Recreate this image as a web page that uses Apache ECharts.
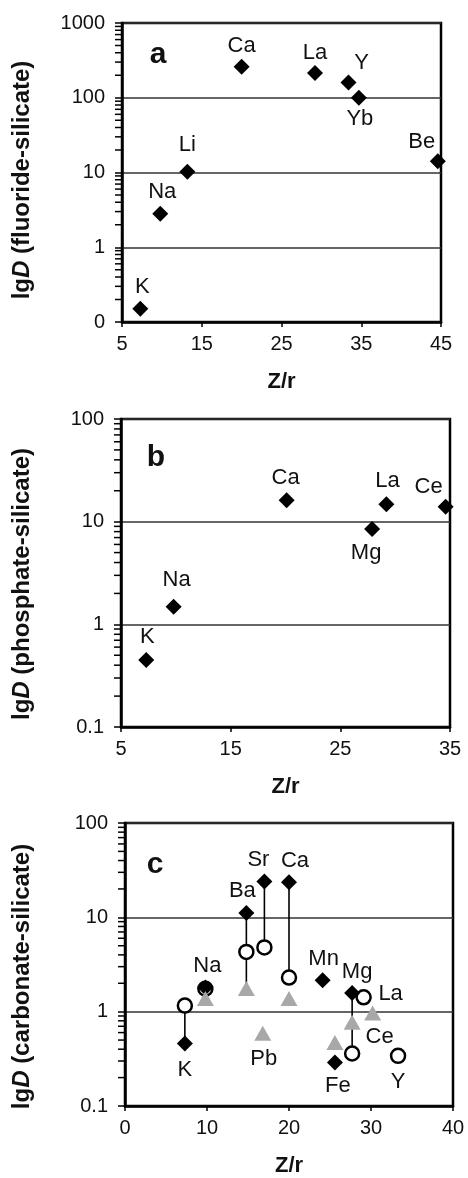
<!DOCTYPE html>
<html>
<head>
<meta charset="utf-8">
<script src="https://cdn.jsdelivr.net/npm/echarts@6/dist/echarts.min.js"></script>
<style>
  html, body { margin: 0; padding: 0; background: #fff; }
  #chart { width: 468px; height: 1178px; }
</style>
</head>
<body>
<div id="chart"></div>
<script>
// ---- Panel a: fluoride melt / silicate melt partition coefficients ----
const fluorideElements = ['K', 'Na', 'Li', 'Ca', 'La', 'Y', 'Yb', 'Be'];
const fluorideZr       = [7.3, 9.8, 13.2, 20.0, 29.2, 33.4, 34.7, 44.6];
const fluorideD        = [0.15, 2.8, 10.2, 260, 215, 160, 100, 14.1];

// ---- Panel b: phosphate melt / silicate melt ----
const phosphateElements = ['K', 'Na', 'Ca', 'Mg', 'La', 'Ce'];
const phosphateZr       = [7.3, 9.8, 20.1, 27.9, 29.2, 34.6];
const phosphateD        = [0.45, 1.48, 16.2, 8.5, 14.8, 14.0];

// ---- Panel c: carbonate melt / silicate melt, three data sets ----
const carbDiamondElements = ['K', 'Na', 'Ba', 'Sr', 'Ca', 'Mn', 'Mg', 'Fe'];
const carbDiamondZr       = [7.3, 9.8, 14.8, 17.0, 20.0, 24.1, 27.7, 25.6];
const carbDiamondD        = [0.46, 1.8, 11.1, 24, 23.5, 2.15, 1.58, 0.29];

const carbCircleElements = ['K', 'Na', 'Ba', 'Sr', 'Ca', 'Mg', 'La', 'Y'];
const carbCircleZr       = [7.3, 9.8, 14.8, 17.0, 20.0, 27.7, 29.1, 33.3];
const carbCircleD        = [1.16, 1.75, 4.3, 4.8, 2.3, 0.36, 1.42, 0.34];

const carbTriangleElements = ['Na', 'Ba', 'Pb', 'Ca', 'Fe', 'Mg', 'Ce'];
const carbTriangleZr       = [9.8, 14.8, 16.8, 20.0, 25.6, 27.7, 30.2];
const carbTriangleD        = [1.38, 1.76, 0.59, 1.38, 0.47, 0.77, 0.97];

// tie lines joining the same element across data sets: [element, from set, to set]
const carbTieLines = [
  ['K',  'circle',  'diamond'],
  ['Ba', 'diamond', 'triangle'],
  ['Sr', 'diamond', 'circle'],
  ['Ca', 'diamond', 'circle'],
  ['Mg', 'diamond', 'circle']
];

// axis ticks
const zrTicksA = { min: 5, max: 45, interval: 10 };
const zrTicksB = { min: 5, max: 35, interval: 10 };
const zrTicksC = { min: 0, max: 40, interval: 10 };
const dRangeA = { min: 0.1, max: 1000 };
const dRangeB = { min: 0.1, max: 100 };
const dRangeC = { min: 0.1, max: 100 };
const minorMultipliers = [2, 3, 4, 5, 6, 7, 8, 9];

// ---- label placement (pixel offsets from the marker centre) ----
const labelOffsetsA = {
  K: [2, -22], Na: [2, -22], Li: [0, -27], Ca: [0, -21],
  La: [0, -20], Y: [13, -20], Yb: [1, 21], Be: [-16, -19]
};
const labelOffsetsB = {
  K: [1, -23], Na: [3, -27], Ca: [-1, -22], Mg: [-6, 24], La: [1, -23], Ce: [-17, -20]
};
const labelOffsetsCDiamond = {
  K: [0, 26], Na: [2, -22], Ba: [-4, -22], Sr: [-6, -22], Ca: [6, -21],
  Mn: [1, -21], Mg: [5, -21], Fe: [3, 24]
};
const labelOffsetsCCircle = { La: [27, -3], Y: [0, 26] };
const labelOffsetsCTriangle = { Pb: [1, 26], Ce: [7, 24] };

const FONT = '"Liberation Sans", Arial, Helvetica, sans-serif';
const INK = '#111';

function points(names, xs, ys, offsets) {
  return names.map((n, i) => {
    const off = offsets[n];
    return {
      name: n,
      value: [xs[i], ys[i]],
      label: off ? { show: true, offset: off } : { show: false }
    };
  });
}

const pointLabel = {
  show: true, position: 'inside', formatter: '{b}',
  fontFamily: FONT, fontSize: 22, color: INK,
  textBorderWidth: 0, textBorderColor: 'transparent'
};

function minorTickValues(xMin, range) {
  const out = [];
  for (let dec = range.min; dec < range.max * 0.999; dec *= 10) {
    minorMultipliers.forEach(m => out.push([xMin, +(dec * m).toPrecision(3)]));
  }
  return out;
}

// log-spaced minor ticks (2..9 in each decade) just outside the y axis line
function minorTickSeries(idx, xMin, range) {
  return {
    type: 'scatter', xAxisIndex: idx, yAxisIndex: idx, silent: true, z: 6, clip: false,
    symbol: 'rect', symbolSize: [6, 1.5], symbolOffset: [-4, 0],
    itemStyle: { color: '#000', opacity: 1 },
    label: { show: false },
    data: minorTickValues(xMin, range)
  };
}

function xAxisFor(idx, t) {
  return {
    type: 'value', gridIndex: idx, min: t.min, max: t.max, interval: t.interval,
    name: 'Z/r', nameLocation: 'middle', nameGap: 49,
    nameTextStyle: { fontFamily: FONT, fontSize: 22, fontWeight: 'bold', color: INK },
    axisLine: { show: true, lineStyle: { color: '#000', width: 2.5 } },
    axisTick: { show: true, inside: false, length: 5, lineStyle: { color: '#000', width: 1.5 } },
    axisLabel: { margin: 12, fontFamily: FONT, fontSize: 20, color: INK },
    splitLine: { show: false }
  };
}

// the empty trailing rich segment nudges the rotated title down the axis
function yAxisFor(idx, r, phase, nameGap, shift, zeroLabel) {
  return {
    type: 'log', logBase: 10, gridIndex: idx, min: r.min, max: r.max,
    name: '{n|lg}{i|D}{n| (' + phase + '-silicate)}{s| }',
    nameLocation: 'middle', nameGap: nameGap, nameRotate: 90,
    nameTextStyle: {
      rich: {
        n: { fontFamily: FONT, fontSize: 24, fontWeight: 'bold', color: INK },
        i: { fontFamily: FONT, fontSize: 24, fontWeight: 'bold', fontStyle: 'italic', color: INK },
        s: { fontSize: 24, width: shift }
      }
    },
    axisLine: { show: true, lineStyle: { color: '#000', width: 2.5 } },
    axisTick: { show: true, inside: false, length: 7, lineStyle: { color: '#000', width: 1.5 } },
    axisLabel: {
      margin: 17, fontFamily: FONT, fontSize: 20, color: INK,
      formatter: function (v) {
        if (Math.abs(v - 0.1) < 1e-9) return zeroLabel ? '0' : '0.1';
        return String(Math.round(v));
      }
    },
    splitLine: { show: true, lineStyle: { color: '#333', width: 1.5 } }
  };
}

function diamondSeries(idx, data) {
  return {
    type: 'scatter', xAxisIndex: idx, yAxisIndex: idx, z: 3,
    symbol: 'diamond', symbolSize: 16,
    itemStyle: { color: '#000', opacity: 1 },
    label: pointLabel, data: data
  };
}

// tie line data built from the panel c arrays
const carbSets = {
  diamond:  { names: carbDiamondElements,  x: carbDiamondZr,  y: carbDiamondD },
  circle:   { names: carbCircleElements,   x: carbCircleZr,   y: carbCircleD },
  triangle: { names: carbTriangleElements, x: carbTriangleZr, y: carbTriangleD }
};
const tieData = carbTieLines.map(([el, a, b]) => {
  const ia = carbSets[a].names.indexOf(el);
  const ib = carbSets[b].names.indexOf(el);
  return [carbSets[a].x[ia], carbSets[a].y[ia], carbSets[b].y[ib]];
});

const grids = [
  { left: 122, top: 23,  width: 319, height: 299 },
  { left: 121, top: 419, width: 329, height: 308 },
  { left: 125, top: 823, width: 328, height: 285 }
].map(g => Object.assign({ show: true, borderColor: '#000', borderWidth: 2.5, backgroundColor: 'transparent' }, g));

const chart = echarts.init(document.getElementById('chart'), null, { renderer: 'canvas' });
chart.setOption({
  animation: false,
  backgroundColor: '#fff',
  grid: grids,
  xAxis: [xAxisFor(0, zrTicksA), xAxisFor(1, zrTicksB), xAxisFor(2, zrTicksC)],
  yAxis: [
    yAxisFor(0, dRangeA, 'fluoride', 88, 15, true),
    yAxisFor(1, dRangeB, 'phosphate', 87, 22, false),
    yAxisFor(2, dRangeC, 'carbonate', 91, 24, false)
  ],
  graphic: [
    { type: 'text', x: 158, y: 55, style: { text: 'a', fontFamily: FONT, fontSize: 30, fontWeight: 'bold', fill: INK, align: 'center', verticalAlign: 'middle' } },
    { type: 'text', x: 156, y: 458, style: { text: 'b', fontFamily: FONT, fontSize: 30, fontWeight: 'bold', fill: INK, align: 'center', verticalAlign: 'middle' } },
    { type: 'text', x: 155, y: 865, style: { text: 'c', fontFamily: FONT, fontSize: 30, fontWeight: 'bold', fill: INK, align: 'center', verticalAlign: 'middle' } }
  ],
  series: [
    minorTickSeries(0, zrTicksA.min, dRangeA),
    minorTickSeries(1, zrTicksB.min, dRangeB),
    minorTickSeries(2, zrTicksC.min, dRangeC),
    diamondSeries(0, points(fluorideElements, fluorideZr, fluorideD, labelOffsetsA)),
    diamondSeries(1, points(phosphateElements, phosphateZr, phosphateD, labelOffsetsB)),
    {
      type: 'custom', xAxisIndex: 2, yAxisIndex: 2, z: 1, silent: true, clip: false,
      data: tieData,
      renderItem: function (params, api) {
        const p1 = api.coord([api.value(0), api.value(1)]);
        const p2 = api.coord([api.value(0), api.value(2)]);
        return {
          type: 'line',
          shape: { x1: p1[0], y1: p1[1], x2: p2[0], y2: p2[1] },
          style: { stroke: '#000', lineWidth: 1.6 }
        };
      }
    },
    {
      type: 'scatter', xAxisIndex: 2, yAxisIndex: 2, z: 2,
      symbol: 'circle', symbolSize: 14,
      itemStyle: { color: '#fff', borderColor: '#000', borderWidth: 2.5, opacity: 1 },
      label: pointLabel,
      data: points(carbCircleElements, carbCircleZr, carbCircleD, labelOffsetsCCircle)
    },
    diamondSeries(2, points(carbDiamondElements, carbDiamondZr, carbDiamondD, labelOffsetsCDiamond)),
    {
      type: 'scatter', xAxisIndex: 2, yAxisIndex: 2, z: 4,
      symbol: 'triangle', symbolSize: [17, 15],
      itemStyle: { color: '#a8a8a8', opacity: 1 },
      label: pointLabel,
      data: points(carbTriangleElements, carbTriangleZr, carbTriangleD, labelOffsetsCTriangle)
    }
  ]
});
</script>
</body>
</html>
